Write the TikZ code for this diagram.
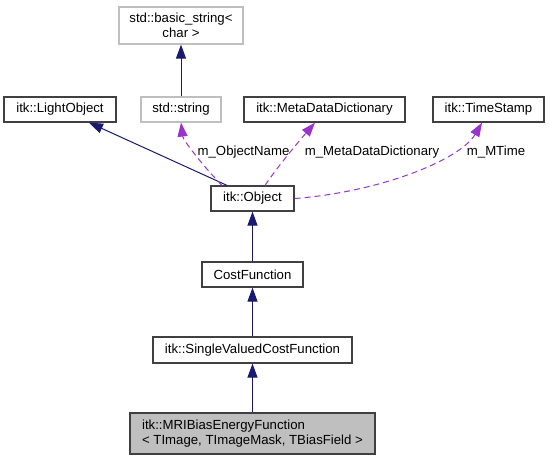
\documentclass[tikz,border=0pt]{standalone}
\usepackage{fontspec}
\setmainfont{Liberation Sans}
\usetikzlibrary{arrows.meta}
\definecolor{navyedge}{HTML}{191970}
\definecolor{purpleedge}{HTML}{9A32CD}
\definecolor{boxborder}{HTML}{404040}
\definecolor{greyborder}{HTML}{BFBFBF}
\definecolor{greyfill}{HTML}{BFBFBF}
\begin{document}
\begin{tikzpicture}[x=1pt,y=-1pt,
  font=\fontsize{13.2}{15}\selectfont,
  box/.style={draw=boxborder, line width=1.2pt, fill=white, inner sep=0pt, align=center},
  gbox/.style={box, draw=greyborder},
  inherit/.style={draw=navyedge, line width=1pt, -{Triangle[length=14pt,width=10pt]}},
  usage/.style={draw=purpleedge, line width=1pt, dash pattern=on 6pt off 4pt, -{Triangle[length=14pt,width=10pt]}},
  lbl/.style={inner sep=0pt}
]
\useasboundingbox (0,0) rectangle (549,460);
\node[gbox, minimum width=124pt, minimum height=37pt] (bs) at (181,25.5) {std::basic\_string<\\char >};
\node[box, minimum width=112pt, minimum height=25pt] (lo) at (60,109.5) {itk::LightObject};
\node[gbox, minimum width=80pt, minimum height=25pt] (ss) at (181,109.5) {std::string};
\node[box, minimum width=161pt, minimum height=25pt] (md) at (324.5,109.5) {itk::MetaDataDictionary};
\node[box, minimum width=111pt, minimum height=25pt] (ts) at (488.5,109.5) {itk::TimeStamp};
\node[box, minimum width=83pt, minimum height=25pt] (ob) at (252.5,198.5) {itk::Object};
\node[box, minimum width=101pt, minimum height=25pt] (cf) at (252.5,274.5) {CostFunction};
\node[box, minimum width=199pt, minimum height=26pt] (sv) at (252.5,350) {itk::SingleValuedCostFunction};
\node[box, fill=greyfill, minimum width=245pt, minimum height=41pt, align=left] (mr) at (252.5,433.5) {itk::MRIBiasEnergyFunction\\< TImage, TImageMask, TBiasField >};

\draw[inherit] (ss.north) -- (bs.south);
\draw[inherit] ([xshift=-25.5pt]ob.north) -- ([xshift=29pt]lo.south);
\draw[inherit] (cf.north) -- (ob.south);
\draw[inherit] (sv.north) -- (cf.south);
\draw[inherit] (mr.north) -- (sv.south);

\draw[usage] ([xshift=-30.5pt]ob.north) .. controls (203,166) and (183,140) .. (ss.south);
\draw[usage] ([xshift=12.5pt]ob.north) .. controls (278,166) and (300,140) .. ([xshift=-9.5pt]md.south);
\draw[usage] (ob.east) .. controls (380,192) and (460,160) .. ([xshift=-6.5pt]ts.south);

\node[lbl] (l1) at (243.5,152.5) {m\_ObjectName};
\node[lbl] (l2) at (372,152.5) {m\_MetaDataDictionary};
\node[lbl] (l3) at (496,152.5) {m\_MTime};
\end{tikzpicture}
\end{document}
